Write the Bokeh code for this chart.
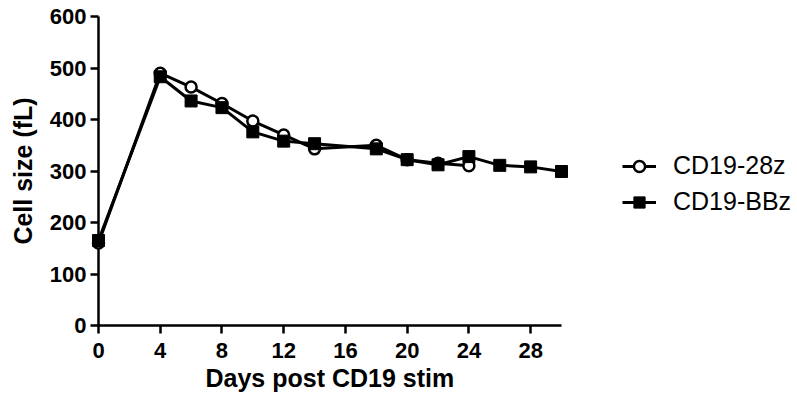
from bokeh.plotting import figure
from bokeh.models import Range1d, Legend, LegendItem, FixedTicker, Title
from bokeh.embed import file_html
from bokeh.resources import INLINE

days_28z = [0, 4, 6, 8, 10, 12, 14, 18, 20, 22, 24]
size_28z = [160, 490, 463, 431, 397, 370, 343, 350, 322, 315, 310]
days_bbz = [0, 4, 6, 8, 10, 12, 14, 18, 20, 22, 24, 26, 28, 30]
size_bbz = [165, 483, 436, 423, 376, 358, 353, 343, 322, 312, 328, 311, 308, 299]
x_ticks = [0, 4, 8, 12, 16, 20, 24, 28]
y_ticks = [0, 100, 200, 300, 400, 500, 600]
x_axis_end = 30
y_axis_end = 600

FONT = "Liberation Sans"

W, H = 797, 400
LEFT, TOP, BOTTOM = 98, 16, 75
AXIS_RIGHT = 561  # pixel where day 30 sits
x_view_end = x_axis_end * (W - LEFT) / (AXIS_RIGHT - LEFT)

p = figure(width=W, height=H, output_backend="svg", toolbar_location=None,
           x_range=Range1d(0, x_view_end), y_range=Range1d(0, y_axis_end),
           min_border_left=LEFT, min_border_right=0, min_border_top=TOP,
           min_border_bottom=BOTTOM)
p.outline_line_color = None
p.grid.visible = False

l1 = p.line(days_28z, size_28z, line_color="black", line_width=3, level="overlay")
s1 = p.scatter(days_28z, size_28z, marker="circle", size=11, fill_color="white",
               line_color="black", line_width=2.5, level="overlay")
l2 = p.line(days_bbz, size_bbz, line_color="black", line_width=3, level="overlay")
s2 = p.scatter(days_bbz, size_bbz, marker="square", size=12, fill_color="black",
               line_color="black", line_width=1, level="overlay")

for ax in (p.xaxis[0], p.yaxis[0]):
    ax.axis_line_width = 2.5
    ax.major_tick_line_width = 2.5
    ax.major_tick_out = 8
    ax.major_tick_in = 0
    ax.minor_tick_line_color = None
    ax.major_label_text_font = FONT
    ax.major_label_text_font_style = "bold"
    ax.major_label_text_font_size = "22px"
    ax.major_label_text_color = "black"
    ax.axis_label_text_font = FONT
    ax.axis_label_text_font_style = "bold"
    ax.axis_label_text_font_size = "25px"
    ax.axis_label_text_color = "black"

p.xaxis[0].ticker = FixedTicker(ticks=x_ticks)
p.xaxis[0].bounds = (0, x_axis_end)
p.xaxis[0].major_label_standoff = 9

p.yaxis[0].ticker = FixedTicker(ticks=y_ticks)
p.yaxis[0].axis_label = "Cell size (fL)"
p.yaxis[0].major_label_standoff = 4
p.yaxis[0].axis_label_standoff = 10

xtitle = Title(text="Days post CD19 stim", align="left", offset=107, standoff=3,
               text_font=FONT, text_font_style="bold", text_font_size="25px",
               text_color="black")
p.add_layout(xtitle, "below")

legend = Legend(items=[LegendItem(label="CD19-28z", renderers=[l1, s1]),
                       LegendItem(label="CD19-BBz", renderers=[l2, s2])],
                location=(524, 109), glyph_width=34, glyph_height=28, label_height=28,
                spacing=7, padding=0, margin=0, border_line_color=None,
                background_fill_alpha=0, label_standoff=17,
                label_text_font=FONT, label_text_font_size="25px",
                label_text_color="black")
p.add_layout(legend, "center")

open("out.html", "w").write(file_html(p, INLINE))
